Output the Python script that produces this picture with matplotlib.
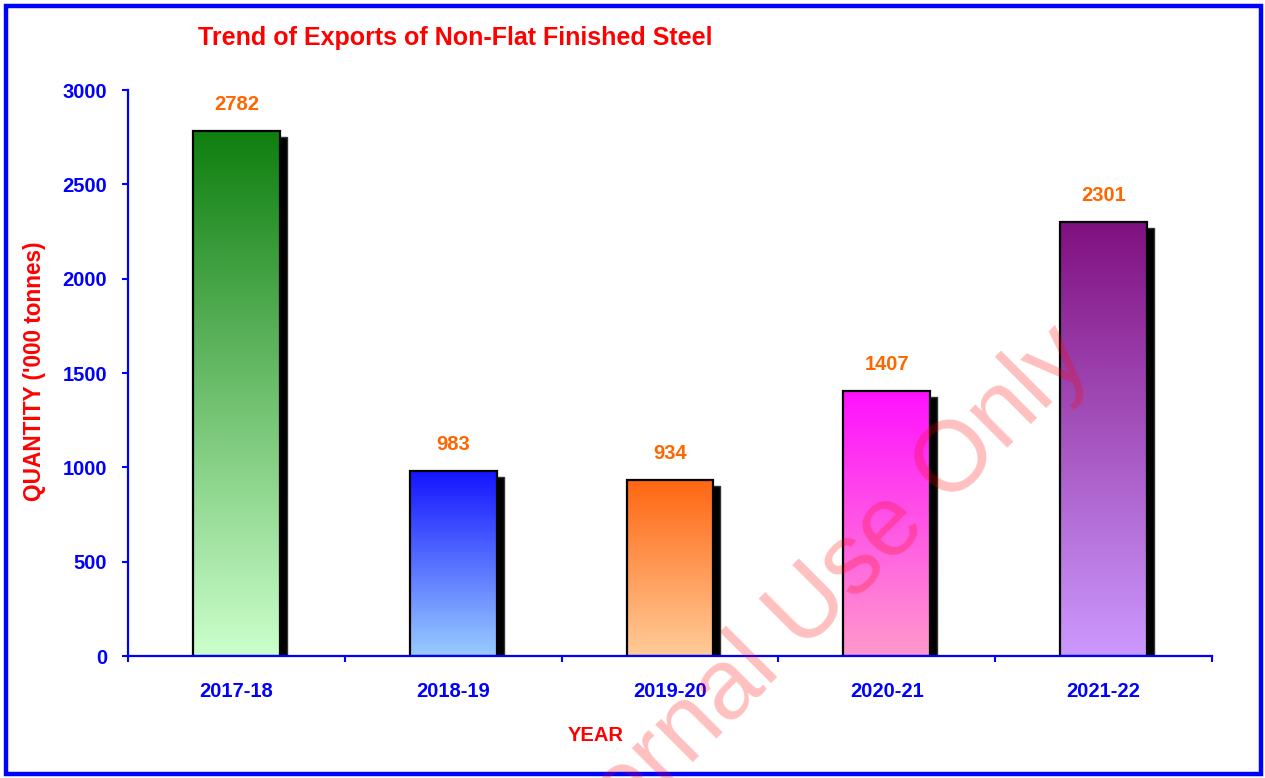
import numpy as np
from matplotlib import colors as mcolors
from matplotlib import patches
from matplotlib import pyplot as plt
from matplotlib import transforms

YEARS = ['2017-18', '2018-19', '2019-20', '2020-21', '2021-22']
EXPORTS = [2782, 983, 934, 1407, 2301]

# (top colour, bottom colour) of each bar's vertical gradient
GRADIENTS = [
    ('#0f7f0f', '#ccffcc'),  # Green.
    ('#1414ff', '#99ccff'),  # Blue.
    ('#ff6611', '#ffcc99'),  # Orange.
    ('#ff11ff', '#ff99cc'),  # Magenta.
    ('#801080', '#cc99ff'),  # Purple.
]

Y_TICKS = [0, 500, 1000, 1500, 2000, 2500, 3000]

FONT = ['Liberation Sans', 'DejaVu Sans']
BLUE = '#0000ff'
RED = '#ff0000'
ORANGE = '#ff6600'
LABEL_SIZE = 14.5


def draw_bar(fig, ax, x, value, top, bottom, width=0.4):
    cmap = mcolors.LinearSegmentedColormap.from_list('bar', [bottom, top])
    grad = np.linspace(0, 1, 256).reshape(-1, 1)
    x0 = x - width / 2
    # drop shadow: same box shifted a few pixels right and down
    shifted = transforms.offset_copy(ax.transData, fig=fig, x=7, y=-6,
                                     units='dots')
    ax.add_patch(patches.Rectangle((x0, 0), width, value, transform=shifted,
                                   facecolor='black', edgecolor='#333333',
                                   linewidth=1, zorder=1))
    ax.imshow(grad, cmap=cmap, origin='lower', aspect='auto',
              extent=(x0, x0 + width, 0, value), zorder=2,
              interpolation='bilinear')
    ax.add_patch(patches.Rectangle((x0, 0), width, value, facecolor='none',
                                   edgecolor='black', linewidth=1.6,
                                   zorder=3))
    ax.annotate(str(value), xy=(x, value), xytext=(0, 19),
                textcoords='offset points', ha='center', va='center',
                color=ORANGE, fontsize=LABEL_SIZE, fontweight='bold',
                family=FONT)


def main():
    fig = plt.figure(figsize=(12.65, 7.78), dpi=100)
    ax = fig.add_axes([0.1012, 0.1568, 0.8569, 0.7275])

    positions = np.arange(len(YEARS))
    for x, value, (top, bottom) in zip(positions, EXPORTS, GRADIENTS):
        draw_bar(fig, ax, x, value, top, bottom)

    ax.set_xlim(-0.5, len(YEARS) - 0.5)
    ax.set_ylim(0, 3000)

    for side in ('top', 'right'):
        ax.spines[side].set_visible(False)
    for side in ('left', 'bottom'):
        ax.spines[side].set_color(BLUE)
        ax.spines[side].set_linewidth(1.6)
        ax.spines[side].set_zorder(4)

    ax.set_yticks(Y_TICKS)
    ax.set_yticklabels([str(t) for t in Y_TICKS], color=BLUE,
                       fontsize=LABEL_SIZE, fontweight='bold', family=FONT)
    ax.tick_params(axis='y', direction='out', length=4.5, width=1.5,
                   color=BLUE, pad=10.5)

    ax.set_xticks(np.arange(len(YEARS) + 1) - 0.5)
    ax.set_xticklabels([])
    ax.set_xticks(positions, minor=True)
    ax.set_xticklabels(YEARS, minor=True, color=BLUE, fontsize=LABEL_SIZE,
                       fontweight='bold', family=FONT)
    ax.tick_params(axis='x', which='major', direction='out', length=4.5,
                   width=1.5, color=BLUE)
    ax.tick_params(axis='x', which='minor', length=0, pad=19)

    fig.text(0.36, 0.951, 'Trend of Exports of Non-Flat Finished Steel',
             ha='center', va='center', color=RED, fontsize=18,
             fontweight='bold', family=FONT)
    fig.text(0.471, 0.054, 'YEAR', ha='center', va='center', color=RED,
             fontsize=LABEL_SIZE, fontweight='bold', family=FONT)
    fig.text(0.027, 0.523, "QUANTITY ('000 tonnes)", rotation=90,
             ha='center', va='center', color=RED, fontsize=16.3,
             fontweight='bold', family=FONT)

    fig.text(0.634, 0.208, 'Internal Use Only', rotation=45,
             rotation_mode='anchor', ha='center', va='center', color=RED,
             alpha=0.25, fontsize=72, family=FONT, zorder=10)

    border = patches.Rectangle((6 / 1265, 4 / 778), 1255 / 1265, 768 / 778,
                               transform=fig.transFigure, fill=False,
                               edgecolor=BLUE, linewidth=3.2)
    fig.add_artist(border)

    fig.savefig('out.png', dpi=100)


if __name__ == '__main__':
    main()
